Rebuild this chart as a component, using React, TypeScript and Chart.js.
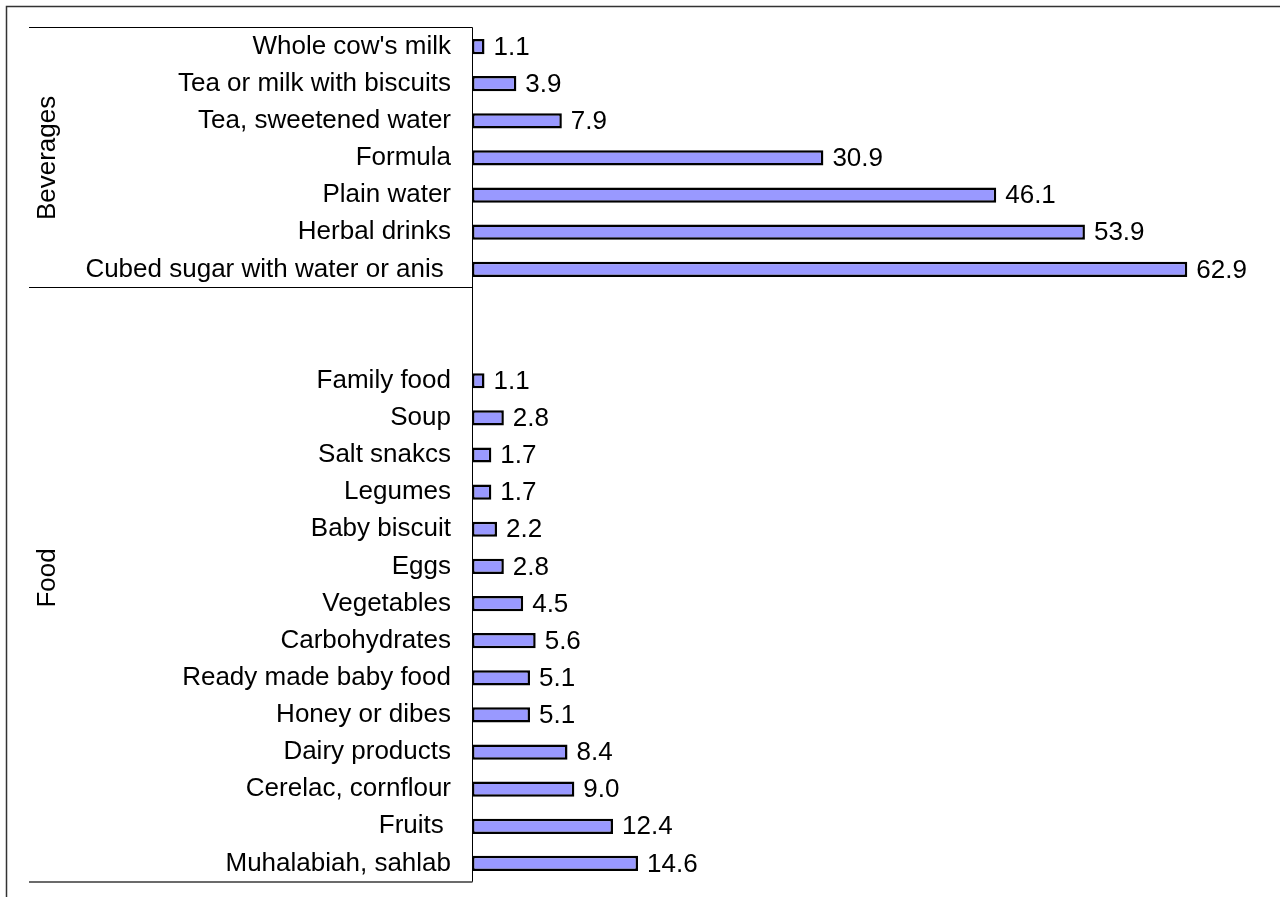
import { useEffect, useRef } from "react";
import { Chart, registerables } from "chart.js";

Chart.register(...registerables);

// Beverages given to infants (% of respondents)
const beverageLabels = [
  "Whole cow's milk",
  "Tea or milk with biscuits",
  "Tea, sweetened water",
  "Formula",
  "Plain water",
  "Herbal drinks",
  "Cubed sugar with water or anis ",
];
const beverageValues = [1.1, 3.9, 7.9, 30.9, 46.1, 53.9, 62.9];

// Foods given to infants (% of respondents)
const foodLabels = [
  "Family food",
  "Soup",
  "Salt snakcs",
  "Legumes",
  "Baby biscuit",
  "Eggs",
  "Vegetables",
  "Carbohydrates",
  "Ready made baby food",
  "Honey or dibes",
  "Dairy products",
  "Cerelac, cornflour",
  "Fruits ",
  "Muhalabiah, sahlab",
];
const foodValues = [1.1, 2.8, 1.7, 1.7, 2.2, 2.8, 4.5, 5.6, 5.1, 5.1, 8.4, 9.0, 12.4, 14.6];

const groupNames = ["Beverages", "Food"];
const gapRows = 2; // empty rows at the start of the food group
const xMax = 70;

const FONT_FAMILY = "'Liberation Sans', Arial, sans-serif";
const LABEL_SIZE = 26;

const gapLabels = Array.from({ length: gapRows }, () => "");
const gapValues = Array.from({ length: gapRows }, () => null as number | null);
const allLabels = [...beverageLabels, ...gapLabels, ...foodLabels];
const allValues: (number | null)[] = [...beverageValues, ...gapValues, ...foodValues];
// index ranges of each group on the category axis
const groupRanges = [
  [0, beverageLabels.length - 1],
  [beverageLabels.length, allLabels.length - 1],
];

const framePlugin = {
  id: "frame",
  beforeDraw(chart: any) {
    const { ctx, width, height } = chart;
    ctx.save();
    ctx.fillStyle = "#ffffff";
    ctx.fillRect(0, 0, width, height);
    ctx.strokeStyle = "#333333";
    ctx.lineWidth = 1.5;
    ctx.beginPath();
    ctx.moveTo(6.5, height + 5);
    ctx.lineTo(6.5, 6.5);
    ctx.lineTo(width + 5, 6.5);
    ctx.stroke();
    ctx.restore();
  },
};

const valueLabelPlugin = {
  id: "valueLabels",
  afterDatasetsDraw(chart: any) {
    const { ctx } = chart;
    const meta = chart.getDatasetMeta(0);
    ctx.save();
    ctx.fillStyle = "#000000";
    ctx.font = `${LABEL_SIZE}px ${FONT_FAMILY}`;
    ctx.textAlign = "left";
    ctx.textBaseline = "middle";
    meta.data.forEach((bar: any, i: number) => {
      const v = allValues[i];
      if (v === null || v === undefined) return;
      ctx.fillText(v.toFixed(1), bar.x + 9, bar.y + 1);
    });
    ctx.restore();
  },
};

// vertical nudge of each rotated group name
const groupNameShift = [0, -7];

const groupAxisPlugin = {
  id: "groupAxis",
  afterDraw(chart: any) {
    const { ctx, chartArea } = chart;
    const yScale = chart.scales.y;
    const rowH = (chartArea.bottom - chartArea.top) / allLabels.length;
    const lineLeft = 29;
    const axisX = Math.round(chartArea.left) + 0.5;
    ctx.save();
    ctx.strokeStyle = "#000000";
    ctx.lineWidth = 1;
    ctx.beginPath();
    // value axis line
    ctx.moveTo(axisX, chartArea.top - 0.5);
    ctx.lineTo(axisX, chartArea.bottom);
    // group boundaries
    groupRanges.forEach(([start]) => {
      const y = Math.round(chartArea.top + start * rowH) - 0.5;
      ctx.moveTo(lineLeft, y);
      ctx.lineTo(axisX, y);
    });
    ctx.stroke();
    ctx.strokeStyle = "#6b6b6b";
    ctx.lineWidth = 2;
    ctx.beginPath();
    ctx.moveTo(lineLeft, Math.round(chartArea.bottom));
    ctx.lineTo(axisX, Math.round(chartArea.bottom));
    ctx.stroke();

    // group names, rotated
    ctx.fillStyle = "#000000";
    ctx.font = `${LABEL_SIZE}px ${FONT_FAMILY}`;
    ctx.textAlign = "center";
    ctx.textBaseline = "middle";
    groupRanges.forEach(([start, end], gi) => {
      const y0 = yScale.getPixelForValue(start) - rowH / 2;
      const y1 = yScale.getPixelForValue(end) + rowH / 2;
      ctx.save();
      ctx.translate(48, (y0 + y1) / 2 + groupNameShift[gi]);
      ctx.rotate(-Math.PI / 2);
      ctx.fillText(groupNames[gi], 0, 0);
      ctx.restore();
    });
    ctx.restore();
  },
};

export default function App() {
  const canvasRef = useRef<HTMLCanvasElement | null>(null);

  useEffect(() => {
    const canvas = canvasRef.current;
    if (!canvas) return;
    const chart = new Chart(canvas, {
      type: "bar",
      data: {
        labels: allLabels,
        datasets: [
          {
            data: allValues,
            backgroundColor: "#9999ff",
            borderColor: "#000000",
            borderWidth: 2.5,
            borderSkipped: false,
            categoryPercentage: 1,
            barPercentage: 0.41,
          },
        ],
      },
      options: {
        indexAxis: "y",
        responsive: false,
        animation: false,
        devicePixelRatio: 1,
        layout: { padding: { top: 28, bottom: 15, right: 12, left: 0 } },
        plugins: {
          legend: { display: false },
          tooltip: { enabled: false },
          title: { display: false },
        },
        scales: {
          x: {
            display: false,
            min: 0,
            max: xMax,
          },
          y: {
            type: "category",
            offset: true,
            grid: {
              display: true,
              drawOnChartArea: false,
              drawTicks: true,
              tickLength: 21,
              color: "rgba(0,0,0,0)",
              tickColor: "rgba(0,0,0,0)",
            },
            border: { display: false },
            ticks: {
              color: "#000000",
              padding: 0,
              autoSkip: false,
              font: { family: FONT_FAMILY, size: LABEL_SIZE, lineHeight: 0.1 },
            },
            afterFit(scale: any) {
              scale.width = 472;
            },
          },
        },
      },
      plugins: [framePlugin, valueLabelPlugin, groupAxisPlugin],
    } as any);
    return () => chart.destroy();
  }, []);

  return (
    <div
      style={{
        position: "fixed",
        left: 0,
        top: 0,
        width: 1280,
        height: 897,
        background: "#ffffff",
        overflow: "hidden",
      }}
    >
      <canvas ref={canvasRef} width={1280} height={897} style={{ display: "block" }} />
    </div>
  );
}
